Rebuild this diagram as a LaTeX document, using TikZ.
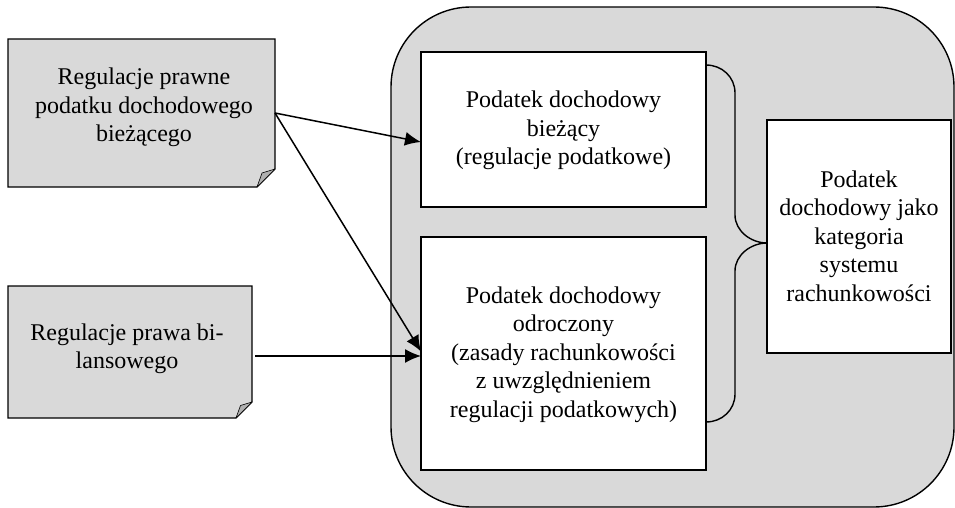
\documentclass[tikz,border=0pt]{standalone}
\usepackage{fontspec}
\setmainfont{Liberation Serif}
\usetikzlibrary{arrows.meta,calc}
\definecolor{panelgray}{HTML}{D9D9D9}
\definecolor{foldgray}{HTML}{B0B0B0}
% centred stack of lines whose baseline is the first line
\newcommand\stacklines[1]{\begin{tabular}[t]{@{}c@{}}#1\end{tabular}}
\tikzset{
  outline/.style={line width=1.4pt},
  panel/.style={outline, draw, fill=panelgray, rounded corners=80pt, inner sep=0pt, outer sep=0pt},
  whitebox/.style={outline, draw, fill=white, inner sep=0pt, outer sep=0pt},
  notearea/.style={inner sep=0pt, outer sep=0pt},
  notepaper/.style={outline, fill=panelgray, line join=miter},
  notefold/.style={line width=0.6pt, fill=foldgray, line join=round},
  caption/.style={anchor=base, inner sep=0pt, font=\fontsize{24}{28.5}\selectfont},
  conn/.style={line width=1.5pt, -{Latex[length=16pt,width=14pt]}},
  bracket/.style={line width=1.4pt}
}
\begin{document}
\begin{tikzpicture}[x=1pt,y=-1pt]
\useasboundingbox (0,0) rectangle (955,508);

% large rounded panel
\node[panel, minimum width=563pt, minimum height=500pt] (frame) at (672.5,257) {};

% boxes inside the panel
\node[whitebox, minimum width=285pt, minimum height=155pt] (cur) at (563.5,129.5) {};
\node[whitebox, minimum width=285pt, minimum height=233pt] (def) at (563.5,353.5) {};
\node[whitebox, minimum width=184pt, minimum height=233pt] (res) at (859,236.5) {};

% notes with a folded corner
\node[notearea, minimum width=267pt, minimum height=148pt] (reg1) at (141.5,113) {};
\node[notearea, minimum width=244pt, minimum height=132pt] (reg2) at (130,352) {};

\draw[notepaper] (reg1.north west) -- (reg1.north east) -- ($(reg1.south east)+(0,-18)$)
  -- ($(reg1.south east)+(-18,0)$) -- (reg1.south west) -- cycle;
\draw[notefold] ($(reg1.south east)+(0,-18)$) -- ($(reg1.south east)+(-18,0)$)
  -- ($(reg1.south east)+(-13,-14)$) -- cycle;

\draw[notepaper] (reg2.north west) -- (reg2.north east) -- ($(reg2.south east)+(0,-16)$)
  -- ($(reg2.south east)+(-16,0)$) -- (reg2.south west) -- cycle;
\draw[notefold] ($(reg2.south east)+(0,-16)$) -- ($(reg2.south east)+(-16,0)$)
  -- ($(reg2.south east)+(-11.5,-12.5)$) -- cycle;

% texts
\node[caption] (reg1t) at (144,85) {\stacklines{Regulacje prawne\\podatku dochodowego\\bieżącego}};
\node[caption] (reg2t) at (127,340) {\stacklines{Regulacje prawa bi-\\lansowego}};
\node[caption] (curt) at (563.5,108) {\stacklines{Podatek dochodowy\\bieżący\\(regulacje podatkowe)}};
\node[caption] (deft) at (563.5,303) {\stacklines{Podatek dochodowy\\odroczony\\(zasady rachunkowości\\z uwzględnieniem\\regulacji podatkowych)}};
\node[caption] (rest) at (859,187) {\stacklines{Podatek\\dochodowy jako\\kategoria\\systemu\\rachunkowości}};

% connector end points
\coordinate (curin) at ($(cur.west)+(0,12.5)$);
\coordinate (defin1) at ($(def.west)+(0,-2)$);
\coordinate (defin2) at ($(def.west)+(0,2.5)$);
\coordinate (reg2out) at ($(reg2.east)+(3,4)$);

\draw[conn] (reg1.east) -- (curin);
\draw[conn] (reg1.east) -- (defin1);
\draw[conn] (reg2out) -- (defin2);

% brace joining both boxes to the result box
\coordinate (bt) at ($(cur.north east)+(0,13)$);
\coordinate (bb) at ($(def.south east)+(0,-48)$);
\coordinate (tip) at ($(res.west)+(0,6.5)$);
\draw[bracket] (bt) .. controls +(16,0) and +(0,-16) .. ++(29,28)
  -- ($(tip)+(-32,-28)$) .. controls +(0,16) and +(-16,0) .. (tip)
  .. controls +(-16,0) and +(0,-16) .. ($(tip)+(-32,28)$)
  -- ($(bb)+(29,-28)$) .. controls +(0,16) and +(16,0) .. (bb);
\end{tikzpicture}
\end{document}
